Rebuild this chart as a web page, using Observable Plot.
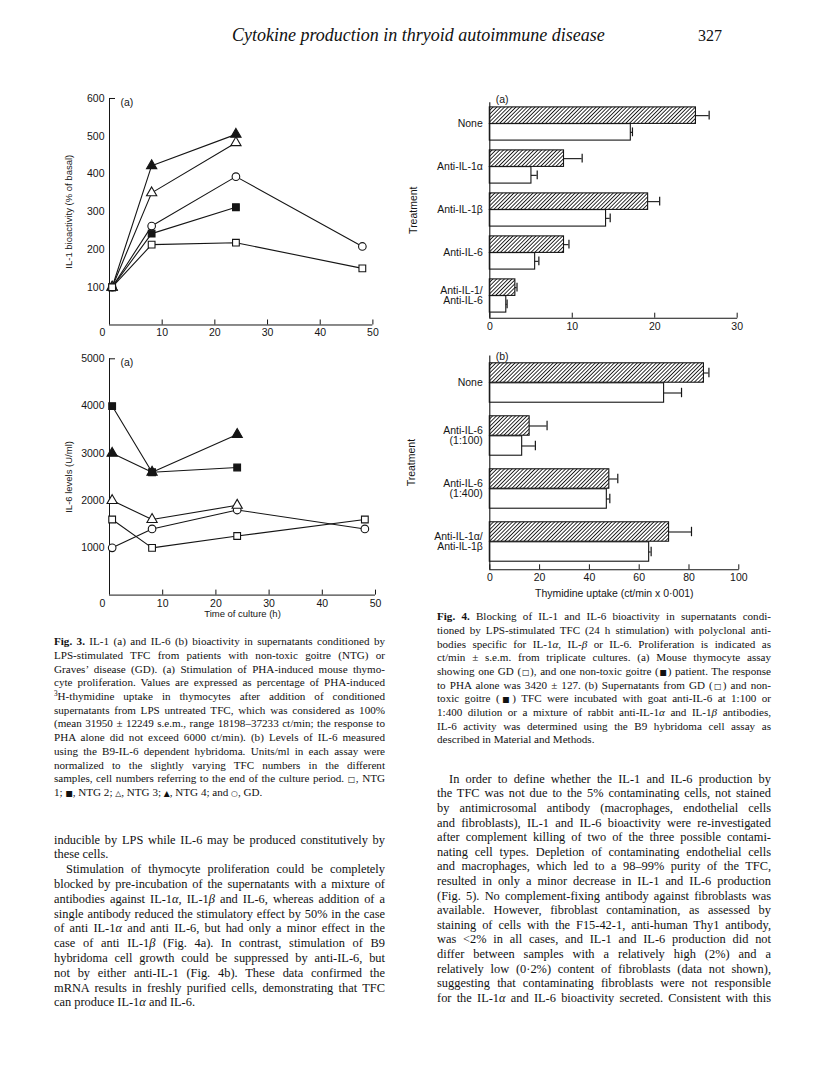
<!DOCTYPE html>
<html><head><meta charset="utf-8">
<script src="https://cdn.jsdelivr.net/npm/d3@7"></script>
<script src="https://cdn.jsdelivr.net/npm/@observablehq/plot@0.6"></script>
<style>
body{margin:0;background:#fff;}
#page{position:relative;width:816px;height:1084px;overflow:hidden;background:#fff;color:#111;}
.ln{position:absolute;white-space:nowrap;font-family:"Liberation Serif","Times New Roman",serif;text-align:justify;text-align-last:justify;}
.ln.end{text-align-last:left;}
.sym{font-family:"DejaVu Sans",sans-serif;font-size:0.7em;}
.sup{font-size:0.65em;position:relative;top:-0.55em;}
</style></head><body><div id="page"></div>
<script>
// ---------- Fig. 3 data ----------
const series3 = ["NTG 1", "NTG 2", "NTG 3", "NTG 4", "GD"];
const hoursLong = [0.5, 8, 24, 48];
const hoursShort = [0.5, 8, 24];
// (a) IL-1 bioactivity (% of basal)
const il1NTG1 = [100, 213, 218, 150];
const il1NTG2 = [100, 242, 312];
const il1NTG3 = [100, 350, 483];
const il1NTG4 = [100, 422, 505];
const il1GD   = [100, 262, 393, 208];
const il1Ticks = [100, 200, 300, 400, 500, 600];
// (b) IL-6 levels (U/ml)
const il6NTG1 = [1600, 1000, 1250, 1600];
const il6NTG2 = [4000, 2600, 2700];
const il6NTG3 = [2000, 1600, 1900];
const il6NTG4 = [3000, 2600, 3400];
const il6GD   = [1000, 1400, 1800, 1400];
const il6Ticks = [1000, 2000, 3000, 4000, 5000];
const hourTicks = [10, 20, 30, 40, 50];

// ---------- Fig. 4 data ----------
const treatA = ["None", "Anti-IL-1α", "Anti-IL-1β", "Anti-IL-6", "Anti-IL-1/\nAnti-IL-6"];
const ntgA    = [25, 9, 19.2, 9, 3.1];
const ntgSemA = [1.6, 2.2, 1.4, 0.6, 0.2];
const gdA     = [17.1, 5.05, 14.1, 5.5, 2.0];
const gdSemA  = [0.2, 0.7, 0.5, 0.45, 0.1];
const ticksA  = [0, 10, 20, 30];

const treatB = ["None", "Anti-IL-6\n(1:100)", "Anti-IL-6\n(1:400)", "Anti-IL-1α/\nAnti-IL-1β"];
const ntgB    = [86, 16, 48, 72];
const ntgSemB = [2, 7, 3.4, 9];
const gdB     = [70, 13, 47, 64];
const gdSemB  = [7, 5.3, 1.2, 0.8];
const ticksB  = [0, 20, 40, 60, 80, 100];

// ---------- text ----------
const headerTitle = "Cytokine production in thryoid autoimmune disease";
const pageNumber = "327";
const cap3 = [
"<b>Fig. 3.</b> IL-1 (a) and IL-6 (b) bioactivity in supernatants conditioned by",
"LPS-stimulated TFC from patients with non-toxic goitre (NTG) or",
"Graves’ disease (GD). (a) Stimulation of PHA-induced mouse thymo-",
"cyte proliferation. Values are expressed as percentage of PHA-induced",
"<span class='sup'>3</span>H-thymidine uptake in thymocytes after addition of conditioned",
"supernatants from LPS untreated TFC, which was considered as 100%",
"(mean 31950 ± 12249 s.e.m., range 18198–37233 ct/min; the response to",
"PHA alone did not exceed 6000 ct/min). (b) Levels of IL-6 measured",
"using the B9-IL-6 dependent hybridoma. Units/ml in each assay were",
"normalized to the slightly varying TFC numbers in the different",
"samples, cell numbers referring to the end of the culture period. <span class='sym'>□</span>, NTG",
"1; <span class='sym'>■</span>, NTG 2; <span class='sym'>△</span>, NTG 3; <span class='sym'>▲</span>, NTG 4; and <span class='sym'>○</span>, GD.$"
];
const cap4 = [
"<b>Fig. 4.</b> Blocking of IL-1 and IL-6 bioactivity in supernatants condi-",
"tioned by LPS-stimulated TFC (24 h stimulation) with polyclonal anti-",
"bodies specific for IL-1<i>α</i>, IL-<i>β</i> or IL-6. Proliferation is indicated as",
"ct/min ± s.e.m. from triplicate cultures. (a) Mouse thymocyte assay",
"showing one GD (<span class='sym'>□</span>), and one non-toxic goitre (<span class='sym'>■</span>) patient. The response",
"to PHA alone was 3420 ± 127. (b) Supernatants from GD (<span class='sym'>□</span>) and non-",
"toxic goitre (<span class='sym'>■</span>) TFC were incubated with goat anti-IL-6 at 1:100 or",
"1:400 dilution or a mixture of rabbit anti-IL-1<i>α</i> and IL-1<i>β</i> antibodies,",
"IL-6 activity was determined using the B9 hybridoma cell assay as",
"described in Material and Methods.$"
];
const bodyLeft = [
"inducible by LPS while IL-6 may be produced constitutively by",
"these cells.$",
"^Stimulation of thymocyte proliferation could be completely",
"blocked by pre-incubation of the supernatants with a mixture of",
"antibodies against IL-1<i>α</i>, IL-1<i>β</i> and IL-6, whereas addition of a",
"single antibody reduced the stimulatory effect by 50% in the case",
"of anti IL-1<i>α</i> and anti IL-6, but had only a minor effect in the",
"case of anti IL-1<i>β</i> (Fig. 4a). In contrast, stimulation of B9",
"hybridoma cell growth could be suppressed by anti-IL-6, but",
"not by either anti-IL-1 (Fig. 4b). These data confirmed the",
"mRNA results in freshly purified cells, demonstrating that TFC",
"can produce IL-1<i>α</i> and IL-6.$"
];
const bodyRight = [
"^In order to define whether the IL-1 and IL-6 production by",
"the TFC was not due to the 5% contaminating cells, not stained",
"by antimicrosomal antibody (macrophages, endothelial cells",
"and fibroblasts), IL-1 and IL-6 bioactivity were re-investigated",
"after complement killing of two of the three possible contami-",
"nating cell types. Depletion of contaminating endothelial cells",
"and macrophages, which led to a 98–99% purity of the TFC,",
"resulted in only a minor decrease in IL-1 and IL-6 production",
"(Fig. 5). No complement-fixing antibody against fibroblasts was",
"available. However, fibroblast contamination, as assessed by",
"staining of cells with the F15-42-1, anti-human Thy1 antibody,",
"was &lt;2% in all cases, and IL-1 and IL-6 production did not",
"differ between samples with a relatively high (2%) and a",
"relatively low (0·2%) content of fibroblasts (data not shown),",
"suggesting that contaminating fibroblasts were not responsible",
"for the IL-1<i>α</i> and IL-6 bioactivity secreted. Consistent with this"
];

// ---------- helpers ----------
const page = document.getElementById("page");
const INK = "#151515";
function block(lines, x, y0, w, lh, size) {
  lines.forEach((raw, i) => {
    let s = raw, indent = 0, end = false;
    if (s.startsWith("^")) { s = s.slice(1); indent = 12; }
    if (s.endsWith("$")) { s = s.slice(0, -1); end = true; }
    const d = document.createElement("div");
    d.className = "ln" + (end ? " end" : "");
    d.style.left = (x + indent) + "px";
    d.style.width = (w - indent) + "px";
    d.style.top = (y0 + i * lh - lh / 2) + "px";
    d.style.height = lh + "px";
    d.style.lineHeight = lh + "px";
    d.style.fontSize = size + "px";
    d.innerHTML = s;
    page.appendChild(d);
  });
}
function label(text, x, cy, size, style) {
  const d = document.createElement("div");
  d.className = "ln end";
  Object.assign(d.style, {left: x + "px", top: (cy - size * 0.6) + "px", fontSize: size + "px", lineHeight: (size * 1.2) + "px"}, style || {});
  d.textContent = text;
  page.appendChild(d);
}
function place(svg, left, top) {
  svg.style.position = "absolute";
  svg.style.left = left + "px";
  svg.style.top = top + "px";
  page.appendChild(svg);
}
function seriesRows(name, times, vals) {
  return vals.map((v, i) => ({s: name, t: times[i], v}));
}
const baseStyle = {fontFamily: "'Liberation Sans', Arial, sans-serif", fontSize: "10.5px", background: "transparent", color: INK, overflow: "visible"};
const plain = d => String(d);

function lineChart(o) {
  const width = o.mL + o.fW + o.mR, height = o.mT + o.fH + o.mB;
  const marks = [
    Plot.ruleX([0], {stroke: INK}),
    Plot.ruleY([0], {stroke: INK}),
    Plot.ruleX(hourTicks, {x: d => d, insetTop: o.fH - 5, stroke: INK}),
    Plot.ruleY([o.yMax], {y: d => d, insetRight: o.fW - 6, stroke: INK}),
    Plot.axisX({ticks: hourTicks, tickSize: 0, tickPadding: 4, tickFormat: plain, label: null}),
    Plot.axisX({ticks: [0], tickSize: 0, tickPadding: 4, tickFormat: plain, dx: -7, label: null}),
    Plot.axisY({ticks: o.yTicks, tickSize: 0, tickPadding: 5, tickFormat: plain, label: null}),
    Plot.line(o.rows, {x: "t", y: "v", z: "s", stroke: INK, strokeWidth: 1.1}),
    Plot.dot(o.rows, {x: "t", y: "v", symbol: "s", fill: "s", stroke: INK, strokeWidth: 1.1, r: 3.8}),
    Plot.text([o.yTitle], {frameAnchor: "left", textAnchor: "middle", rotate: -90, dx: o.yTitleDx, fontSize: 9.5}),
    Plot.text([o.panel], {frameAnchor: "top-left", dx: 11, textAnchor: "start", fontSize: 10.5})
  ];
  if (o.xTitle) marks.push(Plot.text([o.xTitle], {frameAnchor: "bottom", textAnchor: "middle", dy: o.xTitleDy, fontSize: 9.5}));
  return Plot.plot({
    width, height, marginLeft: o.mL, marginRight: o.mR, marginTop: o.mT, marginBottom: o.mB,
    style: baseStyle,
    x: {domain: [0, 50], label: null},
    y: {domain: [0, o.yMax], label: null},
    symbol: {domain: series3, range: ["square", "square", "triangle", "triangle", "circle"]},
    color: {domain: series3, range: ["white", INK, "white", INK, "white"]},
    marks
  });
}

function barChart(o) {
  const width = o.mL + o.fW + o.mR, height = o.mT + o.fH + o.mB;
  const step = o.fH / o.cats.length, bh = o.barH, cap = o.capH / 2;
  const ntgRows = o.cats.map((c, i) => ({c, v: o.ntg[i], e: o.ntgSem[i]}));
  const gdRows = o.cats.map((c, i) => ({c, v: o.gd[i], e: o.gdSem[i]}));
  const svg = Plot.plot({
    width, height, marginLeft: o.mL, marginRight: o.mR, marginTop: o.mT, marginBottom: o.mB,
    style: baseStyle,
    x: {domain: [0, o.xMax], label: null},
    y: {domain: o.cats, padding: 0, label: null},
    marks: [
      Plot.barX(ntgRows, {y: "c", x: "v", fill: `url(#${o.id})`, stroke: INK, strokeWidth: 1.1, insetTop: step / 2 - bh, insetBottom: step / 2}),
      Plot.barX(gdRows, {y: "c", x: "v", fill: "white", stroke: INK, strokeWidth: 1.1, insetTop: step / 2, insetBottom: step / 2 - bh}),
      Plot.ruleY(ntgRows, {y: "c", x1: "v", x2: d => d.v + d.e, dy: -bh / 2, stroke: INK, strokeWidth: 1.1}),
      Plot.ruleY(gdRows, {y: "c", x1: "v", x2: d => d.v + d.e, dy: bh / 2, stroke: INK, strokeWidth: 1.1}),
      Plot.tickX(ntgRows, {y: "c", x: d => d.v + d.e, insetTop: step / 2 - bh / 2 - cap, insetBottom: step / 2 + bh / 2 - cap, stroke: INK, strokeWidth: 1.2}),
      Plot.tickX(gdRows, {y: "c", x: d => d.v + d.e, insetTop: step / 2 + bh / 2 - cap, insetBottom: step / 2 - bh / 2 - cap, stroke: INK, strokeWidth: 1.2}),
      Plot.frame({stroke: INK, strokeWidth: 1.1, strokeDasharray: `0 ${o.fW + o.fH} ${o.fW + o.fH}`}),
      Plot.ruleX(o.ticks, {x: d => d, insetTop: o.fH - 5, stroke: INK}),
      Plot.axisX({ticks: o.ticks, tickSize: 0, tickPadding: 4, tickFormat: plain, label: null}),
      Plot.axisY({tickSize: 0, tickPadding: 7, label: null, fontSize: 10.5, lineHeight: 0.95}),
      Plot.text(["Treatment"], {frameAnchor: "left", textAnchor: "middle", rotate: -90, dx: o.yTitleDx, fontSize: 10.5}),
      Plot.text([o.panel], {frameAnchor: "top-left", dx: 6, dy: o.panelDy, textAnchor: "start", fontSize: 10.5}),
      ...(o.xTitle ? [Plot.text([o.xTitle], {frameAnchor: "bottom", textAnchor: "middle", dy: o.xTitleDy, fontSize: 10.5})] : [])
    ]
  });
  d3.select(svg).insert("defs", ":first-child").html(
    `<pattern id="${o.id}" patternUnits="userSpaceOnUse" width="2.7" height="2.7" patternTransform="rotate(45)">` +
    `<rect width="2.7" height="2.7" fill="white"/><line x1="1.35" y1="0" x2="1.35" y2="2.7" stroke="${INK}" stroke-width="0.9"/></pattern>`);
  return svg;
}

// ---------- Fig. 3a ----------
const rows3a = [
  ...seriesRows("GD", hoursLong, il1GD),
  ...seriesRows("NTG 4", hoursShort, il1NTG4),
  ...seriesRows("NTG 3", hoursShort, il1NTG3),
  ...seriesRows("NTG 2", hoursShort, il1NTG2),
  ...seriesRows("NTG 1", hoursLong, il1NTG1)
];
place(lineChart({rows: rows3a, yMax: 600, yTicks: il1Ticks, yTitle: "IL-1 bioactivity (% of basal)", yTitleDx: -41, panel: "(a)",
  mL: 69, mR: 20, mT: 18, mB: 24, fW: 263.4, fH: 226.5}), 40, 80);

// ---------- Fig. 3b ----------
const rows3b = [
  ...seriesRows("GD", hoursLong, il6GD),
  ...seriesRows("NTG 3", hoursShort, il6NTG3),
  ...seriesRows("NTG 1", hoursLong, il6NTG1),
  ...seriesRows("NTG 4", hoursShort, il6NTG4),
  ...seriesRows("NTG 2", hoursShort, il6NTG2)
];
place(lineChart({rows: rows3b, yMax: 5000, yTicks: il6Ticks, yTitle: "IL-6 levels (U/ml)", yTitleDx: -41, panel: "(a)",
  xTitle: "Time of culture (h)", xTitleDy: 22,
  mL: 69, mR: 20, mT: 18.3, mB: 34, fW: 266, fH: 236.3}), 40, 340);

// ---------- Fig. 4a ----------
place(barChart({id: "hatchA", cats: treatA, ntg: ntgA, ntgSem: ntgSemA, gd: gdA, gdSem: gdSemA, xMax: 30, ticks: ticksA,
  panel: "(a)", panelDy: -7, yTitleDx: -76, barH: 16.7, capH: 9,
  mL: 93.3, mR: 15, mT: 21.7, mB: 30, fW: 247.4, fH: 216}), 396, 80);

// ---------- Fig. 4b ----------
place(barChart({id: "hatchB", cats: treatB, ntg: ntgB, ntgSem: ntgSemB, gd: gdB, gdSem: gdSemB, xMax: 100, ticks: ticksB,
  panel: "(b)", panelDy: -3, yTitleDx: -78, barH: 20, capH: 10,
  xTitle: "Thymidine uptake (ct/min x 0·001)", xTitleDy: 27,
  mL: 93.3, mR: 15, mT: 20, mB: 42, fW: 249, fH: 214.3}), 396, 335);

// ---------- page text ----------
label(headerTitle, 232, 36, 18, {fontStyle: "italic"});
label(pageNumber, 698, 36, 16);
block(cap3, 54, 642, 331, 13.72, 11.1);
block(cap4, 437, 617, 334, 13.7, 11.1);
block(bodyLeft, 54, 840, 331, 14.8, 12.4);
block(bodyRight, 437, 779, 334, 14.6, 12.4);
</script></body></html>
